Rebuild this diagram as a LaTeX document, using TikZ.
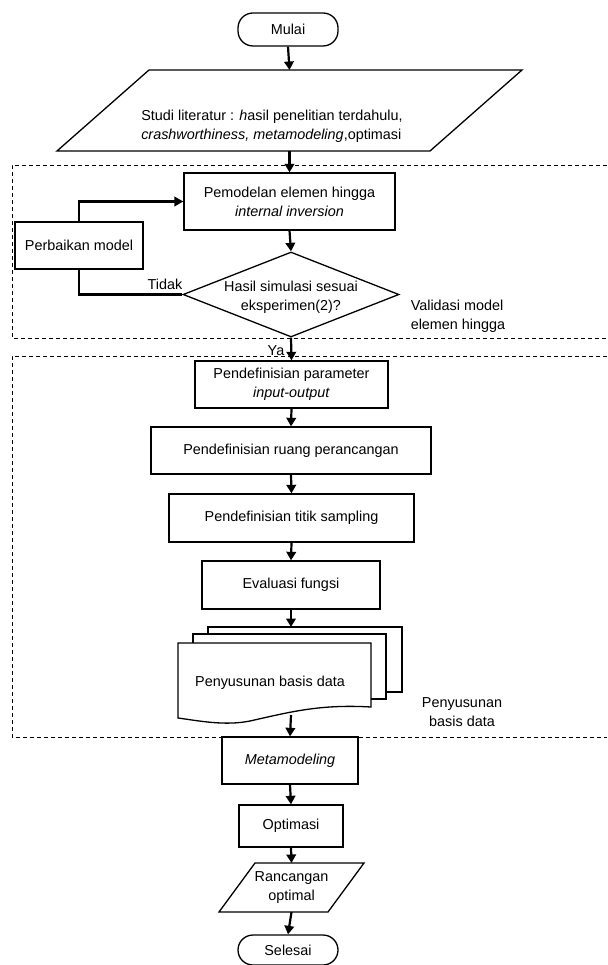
\documentclass[tikz,border=0pt]{standalone}
\usepackage{fontspec}
\setmainfont{Liberation Sans}
\usetikzlibrary{arrows.meta,shapes.geometric}
\begin{document}
\begin{tikzpicture}[x=1pt,y=-1pt,
  font=\fontsize{14.4}{19}\selectfont,
  box/.style={draw, line width=1.3pt, align=center, inner sep=0pt},
  term/.style={draw, line width=1.3pt, rounded corners=15pt, inner sep=0pt, minimum width=100pt},
  shapeline/.style={line width=1.3pt, line join=miter},
  arr/.style={line width=2.2pt, -{Triangle[length=8.5pt,width=9.5pt]}},
  loopline/.style={line width=2.4pt},
  loopArr/.style={line width=2.4pt, -{Triangle[length=9pt,width=9.5pt]}},
  frame/.style={line width=0.9pt, dash pattern=on 4pt off 3pt},
  lbl/.style={inner sep=0pt, align=left}
]
\useasboundingbox (0,0) rectangle (607,965);

% frames
\draw[frame] (607,165) -- (12,165) -- (12,338) -- (607,338);
\draw[frame] (607,356) -- (12,356) -- (12,737) -- (607,737);

% start
\node[term, minimum height=33pt] (mulai) at (288,29.5) {Mulai};

% studi literatur parallelogram
\draw[shapeline] (149,70) -- (522,70) -- (430,151) -- (57,151) -- cycle;
\coordinate (studiT) at (289.5,70);
\coordinate (studiB) at (289.5,151);
\node[lbl] (studi) at (272,126) {Studi literatur : \textit{h}asil penelitian terdahulu,\\\textit{crashworthiness, metamodeling},optimasi};

% pemodelan
\node[box, minimum width=211pt, minimum height=57pt] (pem) at (289.5,201.5) {Pemodelan elemen hingga\\\textit{internal inversion}};

% perbaikan
\node[box, minimum width=128pt, minimum height=47pt] (perb) at (79,245.5) {Perbaikan model};

% diamond
\node[diamond, draw, line width=1.3pt, inner sep=0pt, minimum width=216pt, minimum height=85pt] (dia) at (291,294.5) {};
\node[align=center, inner sep=0pt] (diatext) at (291,297) {Hasil simulasi sesuai\\eksperimen(2)?};

\node[lbl] (valid) at (458,316) {Validasi model\\elemen hingga};

% section 2
\node[box, minimum width=193pt, minimum height=47pt] (param) at (291.5,384.5) {Pendefinisian parameter\\\textit{input-output}};
\node[box, minimum width=280pt, minimum height=47pt] (ruang) at (291,450.5) {Pendefinisian ruang perancangan};
\node[box, minimum width=245pt, minimum height=48pt] (titik) at (291.5,518) {Pendefinisian titik sampling};
\node[box, minimum width=178pt, minimum height=48pt] (eval) at (291,585) {Evaluasi fungsi};

% multi document
\draw[shapeline] (208,634) -- (208,627) -- (402,627) -- (402,692) -- (386,692);
\draw[shapeline] (193,643) -- (193,634) -- (386,634) -- (386,699) -- (371,699);
\draw[shapeline] (178,643) -- (371,643) -- (371,707) .. controls (320,704) and (290,712) .. (250,721) .. controls (225,726) and (200,721) .. (178,718) -- cycle;
\coordinate (docT) at (291,627);
\coordinate (docB) at (291,715);
\node[inner sep=0pt] (doc) at (270,683) {Penyusunan basis data};

\node[align=center, inner sep=0pt] (pbd) at (462,712) {Penyusunan\\basis data};

% section 3
\node[box, minimum width=136pt, minimum height=47pt] (meta) at (290,760.5) {\textit{Metamodeling}};
\node[box, minimum width=104pt, minimum height=42pt] (opt) at (291,826) {Optimasi};

\draw[shapeline] (255,863) -- (364,863) -- (328,912) -- (219,912) -- cycle;
\coordinate (ranT) at (291.5,863);
\coordinate (ranB) at (291.5,912);
\node[align=center, inner sep=0pt] (ran) at (291.5,887.5) {Rancangan\\optimal};

\node[term, minimum height=30pt] (selesai) at (288,950) {Selesai};

% connectors
\draw[arr] (mulai.south) -- (studiT);
\draw[arr] (studiB) -- (pem.north);
\draw[arr] (pem.south) -- (dia.north);
\draw[loopline] (dia.west) -- (dia.west -| perb.south) -- (perb.south);
\draw[loopArr] (perb.north) |- (pem.west);
\node[inner sep=0pt] (tidak) at (165,284) {Tidak};
\draw[arr] (dia.south) -- (param.north);
\node[inner sep=0pt] (ya) at (276,351) {Ya};
\draw[arr] (param.south) -- (ruang.north);
\draw[arr] (ruang.south) -- (titik.north);
\draw[arr] (titik.south) -- (eval.north);
\draw[arr] (eval.south) -- (docT);
\draw[arr] (docB) -- (meta.north);
\draw[arr] (meta.south) -- (opt.north);
\draw[arr] (opt.south) -- (ranT);
\draw[arr] (ranB) -- (selesai.north);
\end{tikzpicture}
\end{document}
